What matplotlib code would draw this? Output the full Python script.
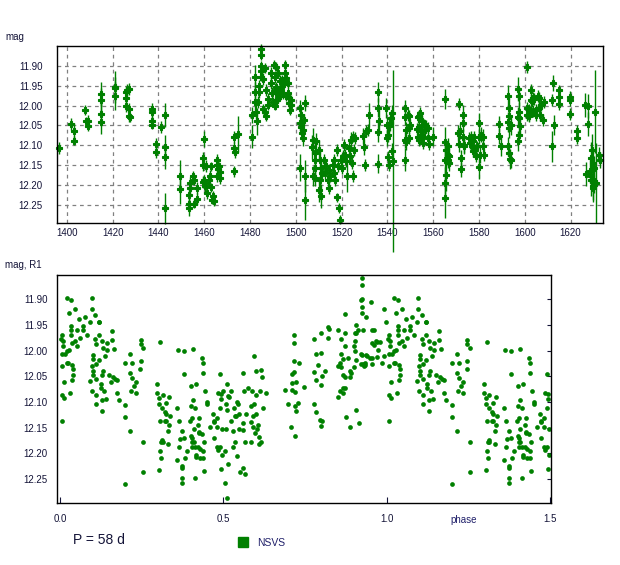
import numpy as np
import matplotlib.pyplot as plt
from matplotlib.lines import Line2D

# NSVS light curve
days = [
    1396.8, 1401.9, 1403.2, 1403.3, 1408.0, 1408.2, 1409.2, 1409.3,
    1415.0, 1415.0, 1415.1, 1415.1, 1421.1, 1421.2, 1421.1, 1425.9,
    1426.4, 1427.3, 1425.8, 1425.9, 1427.0, 1427.2, 1427.4, 1437.3,
    1437.3, 1437.3, 1437.3, 1439.0, 1439.0, 1441.3, 1443.1, 1443.1,
    1443.1, 1443.1,
    1449.4, 1449.4, 1453.2, 1453.2, 1453.2, 1453.7, 1454.0, 1455.2,
    1455.5, 1455.5, 1456.9, 1457.0, 1459.3, 1459.3, 1459.6, 1459.9,
    1460.3, 1460.7, 1460.1, 1461.0, 1461.3, 1462.2, 1462.5, 1462.9,
    1463.2, 1463.4, 1464.0, 1464.3, 1465.4, 1465.7, 1466.1, 1465.4,
    1466.5, 1466.8, 1466.8, 1473.2, 1473.2, 1473.2, 1473.3, 1474.8,
    1481.1, 1481.1, 1482.0, 1482.0, 1482.0, 1482.6, 1482.9, 1484.0,
    1484.0, 1483.7, 1485.0, 1485.0, 1485.0, 1485.0, 1485.0, 1485.8,
    1485.8, 1486.5, 1486.9, 1486.6, 1487.2, 1487.7, 1488.0, 1489.0,
    1489.4, 1489.8, 1490.1, 1490.7, 1491.1, 1491.4, 1491.7, 1491.4,
    1492.1, 1492.9, 1493.6, 1494.3, 1495.1, 1495.1, 1495.8, 1495.8,
    1496.5, 1496.5, 1496.9, 1497.2, 1497.5, 1497.9, 1497.9, 1491.4,
    1491.4, 1492.6, 1493.6, 1493.0, 1492.2, 1490.8, 1494.8, 1494.0,
    1501.9, 1501.9, 1502.3, 1502.7, 1503.0, 1503.7, 1504.2, 1502.3,
    1503.0, 1501.9, 1504.2, 1504.2, 1507.1, 1507.7, 1508.2, 1508.2,
    1508.6, 1507.7, 1508.9, 1508.6, 1510.3, 1510.6, 1511.1, 1510.3,
    1511.1, 1510.6, 1511.5, 1512.5, 1513.2, 1512.9, 1514.0, 1514.4,
    1514.7, 1515.0, 1516.2, 1516.9, 1516.9, 1517.3, 1517.9, 1518.3,
    1518.0, 1518.8, 1519.1, 1519.8, 1520.2, 1520.5, 1521.3, 1522.0,
    1520.9, 1522.3, 1523.4, 1523.7, 1524.2, 1524.9, 1524.6, 1525.2,
    1525.6, 1526.0, 1529.5, 1529.9, 1530.4, 1530.7, 1531.4, 1531.9,
    1535.8, 1535.8, 1535.8, 1535.8, 1536.5, 1539.4, 1539.7, 1539.7,
    1540.1, 1540.3, 1540.9, 1541.2, 1541.6, 1542.0, 1542.0, 1540.9,
    1542.6, 1547.9, 1547.9, 1548.2, 1547.9, 1548.2, 1547.9, 1548.9,
    1549.6, 1549.9, 1549.6, 1549.3, 1553.2, 1553.9, 1554.4, 1552.8,
    1553.2, 1553.9, 1554.7, 1555.1, 1555.4, 1555.7, 1556.2, 1556.6,
    1556.9, 1557.6, 1557.6, 1558.0, 1553.9, 1554.7, 1560.1, 1565.3,
    1565.0, 1565.3, 1565.6, 1565.3, 1565.0, 1566.3, 1566.3, 1566.8,
    1566.3, 1567.1, 1565.6, 1570.7, 1571.1, 1571.1, 1571.7, 1572.2,
    1572.2, 1572.9, 1572.9, 1573.2, 1573.6, 1573.6, 1575.5, 1576.1,
    1576.5, 1576.9, 1577.2, 1577.5, 1577.9, 1578.4, 1578.7, 1579.0,
    1579.9, 1580.2, 1580.5, 1580.9, 1581.6, 1581.9, 1582.3, 1579.9,
    1588.6, 1588.6, 1589.7, 1592.6, 1593.0, 1593.3, 1592.6, 1593.0,
    1592.6, 1593.0, 1593.6, 1594.0, 1594.0, 1596.9, 1597.4, 1596.9,
    1597.4, 1597.7, 1598.0, 1596.9, 1597.7, 1600.9, 1600.9, 1601.7,
    1602.0, 1602.8, 1602.8, 1603.2, 1603.5, 1603.8, 1604.2, 1604.7,
    1602.8, 1604.9, 1605.7, 1606.1, 1606.4, 1606.7, 1607.1, 1607.9,
    1608.6, 1601.7, 1600.9, 1611.9, 1611.9, 1612.5, 1612.9, 1614.8,
    1614.8, 1615.1, 1619.8, 1619.8, 1619.8, 1622.7, 1622.7, 1626.5,
    1627.5, 1627.5, 1626.8, 1628.7, 1629.0, 1629.4, 1629.0, 1629.7,
    1630.0, 1630.2, 1630.4, 1630.7, 1630.9, 1629.7, 1632.6, 1632.9,
    1629.0,
]
mags = [
    12.107, 12.046, 12.065, 12.088, 12.011, 12.040, 12.038, 12.051,
    11.970, 11.985, 12.021, 12.042, 11.954, 11.957, 11.975, 11.965,
    11.960, 11.959, 11.981, 12.001, 12.008, 12.026, 12.030, 12.008,
    12.017, 12.039, 12.048, 12.096, 12.118, 12.055, 12.023, 12.105,
    12.130, 12.259,
    12.177, 12.209, 12.224, 12.247, 12.258, 12.208, 12.195, 12.178,
    12.187, 12.247, 12.208, 12.235, 12.132, 12.149, 12.193, 12.187,
    12.203, 12.196, 12.084, 12.153, 12.220, 12.187, 12.178, 12.206,
    12.153, 12.237, 12.228, 12.241, 12.138, 12.149, 12.161, 12.178,
    12.153, 12.182, 12.168, 12.166, 12.080, 12.107, 12.118, 12.071,
    12.078, 12.023, 11.929, 11.965, 11.990, 12.015, 12.040, 11.950,
    11.965, 11.990, 11.858, 11.872, 11.900, 11.914, 11.927, 11.934,
    12.009, 12.015, 12.026, 11.906, 11.960, 11.984, 11.998, 11.918,
    11.944, 11.969, 11.990, 11.897, 11.927, 11.960, 11.985, 11.902,
    11.918, 11.939, 11.952, 11.969, 11.897, 11.918, 11.931, 11.977,
    11.944, 11.969, 11.981, 11.994, 12.011, 11.998, 11.985, 11.952,
    11.969, 11.960, 11.960, 11.975, 11.982, 12.000, 11.945, 11.935,
    12.006, 12.044, 12.053, 12.069, 12.082, 12.036, 11.994, 12.023,
    12.061, 12.156, 12.177, 12.237, 12.104, 12.086, 12.120, 12.136,
    12.157, 12.178, 12.090, 12.182, 12.111, 12.136, 12.157, 12.212,
    12.228, 12.187, 12.170, 12.136, 12.153, 12.170, 12.187, 12.208,
    12.162, 12.178, 12.149, 12.136, 12.170, 12.187, 12.111, 12.153,
    12.231, 12.258, 12.287, 12.136, 12.157, 12.128, 12.124, 12.140,
    12.099, 12.178, 12.107, 12.128, 12.086, 12.078, 12.145, 12.178,
    12.111, 12.082, 12.076, 12.104, 12.149, 12.063, 12.061, 12.023,
    11.965, 12.005, 12.066, 12.146, 12.040, 12.006, 12.048, 12.082,
    12.073, 12.130, 12.149, 12.044, 12.032, 12.019, 12.115, 12.051,
    12.140, 12.006, 12.029, 12.061, 12.086, 12.092, 12.136, 12.023,
    12.027, 12.048, 12.057, 12.082, 12.029, 12.026, 12.019, 12.059,
    12.078, 12.055, 12.065, 12.040, 12.078, 12.094, 12.048, 12.061,
    12.051, 12.057, 12.082, 12.096, 12.086, 12.073, 12.078, 11.983,
    12.093, 12.136, 12.174, 12.195, 12.233, 12.101, 12.124, 12.145,
    12.136, 12.128, 12.111, 12.069, 11.997, 12.096, 12.065, 12.132,
    12.161, 12.023, 12.044, 12.078, 12.099, 12.103, 12.082, 12.094,
    12.078, 12.103, 12.115, 12.090, 12.078, 12.111, 12.128, 12.103,
    12.044, 12.078, 12.124, 12.073, 12.078, 12.103, 12.124, 12.155,
    12.046, 12.076, 12.101, 11.977, 12.006, 12.027, 12.042, 12.057,
    12.103, 12.120, 12.135, 12.050, 12.136, 11.959, 11.977, 12.029,
    12.031, 12.017, 12.051, 12.090, 12.073, 11.902, 12.006, 12.023,
    12.011, 12.015, 11.985, 11.989, 11.981, 12.013, 11.983, 12.023,
    11.960, 12.011, 11.977, 11.981, 12.006, 12.023, 11.998, 12.036,
    11.990, 12.027, 12.025, 11.987, 12.103, 11.944, 12.048, 11.962,
    11.979, 11.996, 11.979, 11.986, 12.021, 12.065, 12.082, 11.998,
    12.001, 12.046, 12.172, 12.166, 12.132, 12.111, 12.187, 12.203,
    12.145, 12.158, 12.191, 12.015, 12.195, 12.207, 12.124, 12.138,
    12.178,
]
errs = [
    0.015, 0.015, 0.020, 0.012, 0.012, 0.012, 0.015, 0.012,
    0.030, 0.030, 0.030, 0.030, 0.040, 0.030, 0.035, 0.015,
    0.015, 0.015, 0.015, 0.015, 0.015, 0.015, 0.012, 0.015,
    0.015, 0.015, 0.012, 0.015, 0.015, 0.015, 0.030, 0.030,
    0.030, 0.040,
    0.040, 0.040, 0.020, 0.015, 0.020, 0.015, 0.015, 0.012,
    0.012, 0.012, 0.015, 0.015, 0.015, 0.015, 0.015, 0.012,
    0.015, 0.012, 0.020, 0.015, 0.015, 0.015, 0.015, 0.012,
    0.012, 0.012, 0.012, 0.012, 0.015, 0.012, 0.015, 0.015,
    0.012, 0.015, 0.012, 0.015, 0.015, 0.015, 0.015, 0.045,
    0.030, 0.020, 0.030, 0.025, 0.020, 0.020, 0.035, 0.015,
    0.015, 0.015, 0.012, 0.012, 0.012, 0.012, 0.012, 0.015,
    0.012, 0.012, 0.012, 0.012, 0.015, 0.015, 0.012, 0.015,
    0.015, 0.015, 0.012, 0.012, 0.015, 0.012, 0.015, 0.012,
    0.012, 0.015, 0.012, 0.015, 0.012, 0.012, 0.015, 0.012,
    0.012, 0.015, 0.012, 0.015, 0.012, 0.012, 0.012, 0.012,
    0.012, 0.012, 0.012, 0.012, 0.012, 0.012, 0.012, 0.012,
    0.020, 0.020, 0.020, 0.020, 0.020, 0.015, 0.020, 0.015,
    0.015, 0.035, 0.040, 0.050, 0.030, 0.030, 0.025, 0.025,
    0.025, 0.025, 0.020, 0.020, 0.025, 0.025, 0.025, 0.030,
    0.030, 0.025, 0.020, 0.015, 0.015, 0.015, 0.015, 0.015,
    0.015, 0.015, 0.015, 0.015, 0.015, 0.015, 0.015, 0.015,
    0.012, 0.012, 0.012, 0.015, 0.015, 0.015, 0.015, 0.015,
    0.015, 0.040, 0.020, 0.020, 0.020, 0.015, 0.015, 0.015,
    0.015, 0.015, 0.020, 0.020, 0.015, 0.015, 0.015, 0.030,
    0.025, 0.025, 0.025, 0.025, 0.030, 0.025, 0.020, 0.020,
    0.020, 0.015, 0.015, 0.020, 0.020, 0.020, 0.020, 0.020,
    0.230, 0.020, 0.020, 0.020, 0.020, 0.020, 0.030, 0.015,
    0.015, 0.015, 0.015, 0.015, 0.015, 0.015, 0.015, 0.015,
    0.015, 0.015, 0.015, 0.015, 0.015, 0.015, 0.015, 0.015,
    0.015, 0.015, 0.015, 0.015, 0.015, 0.015, 0.025, 0.025,
    0.040, 0.040, 0.040, 0.040, 0.050, 0.020, 0.020, 0.020,
    0.020, 0.020, 0.025, 0.020, 0.015, 0.020, 0.020, 0.020,
    0.020, 0.025, 0.020, 0.020, 0.020, 0.020, 0.015, 0.015,
    0.015, 0.015, 0.015, 0.015, 0.015, 0.015, 0.015, 0.015,
    0.025, 0.020, 0.020, 0.020, 0.020, 0.015, 0.015, 0.030,
    0.020, 0.020, 0.025, 0.030, 0.025, 0.025, 0.025, 0.025,
    0.025, 0.025, 0.025, 0.025, 0.020, 0.030, 0.025, 0.025,
    0.025, 0.025, 0.025, 0.025, 0.025, 0.015, 0.015, 0.015,
    0.015, 0.015, 0.015, 0.015, 0.015, 0.015, 0.015, 0.015,
    0.015, 0.015, 0.015, 0.015, 0.015, 0.015, 0.015, 0.015,
    0.015, 0.015, 0.015, 0.015, 0.040, 0.020, 0.025, 0.015,
    0.015, 0.015, 0.015, 0.015, 0.015, 0.015, 0.015, 0.030,
    0.030, 0.030, 0.030, 0.030, 0.040, 0.040, 0.040, 0.040,
    0.030, 0.030, 0.030, 0.105, 0.100, 0.030, 0.020, 0.020,
    0.030,
]

period = 58.0
epoch = 1431.5

day_ticks = [1400, 1420, 1440, 1460, 1480, 1500, 1520, 1540, 1560, 1580, 1600, 1620]
mag_ticks = [11.90, 11.95, 12.00, 12.05, 12.10, 12.15, 12.20, 12.25]
phase_ticks = [0.0, 0.5, 1.0, 1.5]

assert len(days) == len(mags) == len(errs)

plt.rcParams.update({
    'font.family': ['Liberation Sans', 'DejaVu Sans'],
    'font.size': 7,
})

green = '#008000'
ink = '#141438'
W, H = 620, 565

fig = plt.figure(figsize=(W / 100, H / 100), dpi=100)

def px_axes(left, top, right, bottom):
    return fig.add_axes([left / W, 1 - bottom / H, (right - left) / W, (bottom - top) / H])

# time series
ax1 = px_axes(56.7, 46, 603.3, 222.7)
ax1.errorbar(days, mags, yerr=errs, fmt='none', ecolor=green, elinewidth=1,
             capsize=0, clip_on=False)
ax1.plot(days, mags, 'P', ms=3.8, mew=0.8, mec=green, color=green, clip_on=False)
ax1.set_xlim(1395.6, 1634.3)
ax1.set_ylim(12.295, 11.85)
ax1.set_xticks(day_ticks)
ax1.set_yticks(mag_ticks)
ax1.set_yticklabels([f'{m:.2f}' for m in mag_ticks])
ax1.grid(True, color='#808080', linestyle=(0, (3, 3)), linewidth=0.9)
ax1.set_axisbelow(True)
ax1.tick_params(axis='both', length=0, colors=ink)
ax1.tick_params(axis='y', pad=10)
ax1.tick_params(axis='x', pad=4)
for sp in ax1.spines.values():
    sp.set_linewidth(1)
    sp.set_color('black')

# folded curve, first half repeated after phase 1
d = np.array(days)
m = np.array(mags)
phase = ((d - epoch) / period) % 1.0
first = phase < 0.5
phase_all = np.concatenate([phase, phase[first] + 1.0])
mag_all = np.concatenate([m, m[first]])

ax2 = px_axes(56.7, 274.7, 551, 502.7)
ax2.plot(phase_all, mag_all, 'o', ms=3.4, mew=0, color=green)
ax2.set_xlim(-0.01, 1.502)
ax2.set_ylim(12.296, 11.852)
ax2.set_xticks(phase_ticks)
ax2.set_xticklabels([f'{p:.1f}' for p in phase_ticks])
ax2.set_yticks(mag_ticks)
ax2.set_yticklabels([f'{v:.2f}' for v in mag_ticks])
ax2.tick_params(axis='x', direction='in', length=4, pad=8, colors=ink)
ax2.tick_params(axis='y', left=False, right=True, direction='in', length=3,
                pad=6.5, colors=ink)
for sp in ax2.spines.values():
    sp.set_linewidth(1)
    sp.set_color('black')

fig.text(5 / W, 1 - 37 / H, 'mag', va='center', ha='left', color=ink)
fig.text(5 / W, 1 - 265 / H, 'mag, R1', va='center', ha='left', color=ink)
fig.text(464 / W, 1 - 520 / H, 'phase', va='center', ha='center', color='#20206a')
fig.text(73 / W, 1 - 540 / H, 'P = 58 d', va='center', ha='left', fontsize=10, color=ink)

handle = Line2D([], [], marker='s', ls='', color=green, ms=7.5)
fig.legend(handles=[handle], labels=['NSVS'], loc='center left',
           bbox_to_anchor=(233 / W, 1 - 543 / H), frameon=False,
           handlelength=1.0, handletextpad=0.8, fontsize=7.5,
           labelcolor='#20206a', borderpad=0)

fig.savefig('out.png', dpi=100)
